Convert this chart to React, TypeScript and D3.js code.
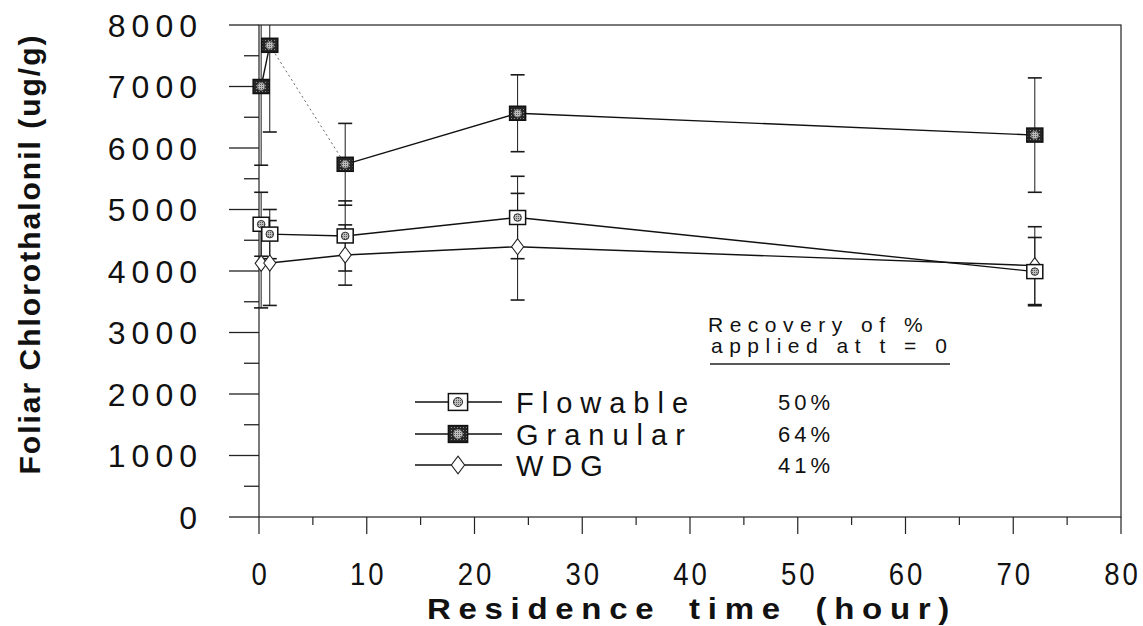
import React from "react";
import * as d3 from "d3";

// Sampling times (hours after application)
const times = [0.2, 1, 8, 24, 72];

// Foliar chlorothalonil residues (ug/g) with error bar half-widths
const flowable = [4760, 4600, 4570, 4870, 3990];
const flowableErr = [520, 400, 570, 670, 555];
const granular = [7000, 7670, 5735, 6565, 6210];
const granularErr = [1280, 1410, 665, 625, 930];
const wdg = [4125, 4130, 4260, 4395, 4087];
const wdgErr = [725, 690, 490, 867, 633];

// Granular segment between 1 h and 8 h is drawn dotted
const granularDotted = [false, true, false, false];

const xTicks = [0, 10, 20, 30, 40, 50, 60, 70, 80];
const xMinor = [5, 15, 25, 35, 45, 55, 65, 75];
const yTicks = [0, 1000, 2000, 3000, 4000, 5000, 6000, 7000, 8000];
const yMinor = [500, 1500, 2500, 3500, 4500, 5500, 6500, 7500];

const legendNames = ["Flowable", "Granular", "WDG"];
const recovery = ["50%", "64%", "41%"];
const recoveryTitle = ["Recovery of %", "applied at t = 0"];

const W = 1143;
const H = 626;
const plot = { left: 259, right: 1121, top: 25, bottom: 517 };

const x = d3.scaleLinear().domain([0, 80]).range([plot.left, plot.right]);
const y = d3.scaleLinear().domain([0, 8000]).range([plot.bottom, plot.top]);

const SANS = "'Liberation Sans', Arial, Helvetica, sans-serif";

type Kind = "flow" | "gran" | "wdg";

function Marker({ cx, cy, kind, scale = 1 }: { cx: number; cy: number; kind: Kind; scale?: number }) {
  if (kind === "wdg") {
    const hw = 6 * scale;
    const hh = 8 * scale;
    const p = d3.path();
    p.moveTo(cx, cy - hh);
    p.lineTo(cx + hw, cy);
    p.lineTo(cx, cy + hh);
    p.lineTo(cx - hw, cy);
    p.closePath();
    return <path d={p.toString()} fill="#fff" stroke="#222" strokeWidth={1.1} />;
  }
  const w = 16 * scale;
  const h = 14 * scale;
  const dark = kind === "gran";
  return (
    <g>
      <rect
        x={cx - w / 2}
        y={cy - h / 2}
        width={w}
        height={h}
        fill={dark ? "url(#stipple)" : "#fff"}
        stroke="#111"
        strokeWidth={1.5}
      />
      <circle cx={cx} cy={cy} r={3.8 * scale} fill="url(#dots)" stroke={dark ? "#777" : "#333"} strokeWidth={1} />
    </g>
  );
}

function ErrorBars({ vals, errs, kind }: { vals: number[]; errs: number[]; kind: Kind }) {
  return (
    <g stroke="#1a1a1a" fill="none">
      {times.map((t, i) => {
        const cx = x(t);
        const hi = vals[i] + errs[i];
        const lo = vals[i] - errs[i];
        const yHi = y(Math.min(hi, 8000));
        const yLo = y(lo);
        return (
          <g key={kind + i}>
            <line x1={cx} x2={cx} y1={yHi} y2={yLo} strokeWidth={1} />
            {hi <= 8000 && <line x1={cx - 7} x2={cx + 7} y1={yHi} y2={yHi} strokeWidth={1.6} />}
            <line x1={cx - 7} x2={cx + 7} y1={yLo} y2={yLo} strokeWidth={1.6} />
          </g>
        );
      })}
    </g>
  );
}

export default function App() {
  const line = d3
    .line<number>()
    .x((_, i) => x(times[i]))
    .y((v) => y(v));

  const legendY = [402, 434, 465];

  return (
    <svg
      width={W}
      height={H}
      viewBox={`0 0 ${W} ${H}`}
      style={{ position: "absolute", left: 0, top: 0, background: "#fff" }}
    >
      <defs>
        <pattern id="stipple" width="3" height="3" patternUnits="userSpaceOnUse">
          <rect width="3" height="3" fill="#262626" />
          <rect x="1" y="1" width="1" height="1" fill="#8a8a8a" />
        </pattern>
        <pattern id="dots" width="2" height="2" patternUnits="userSpaceOnUse">
          <rect width="2" height="2" fill="#bdbdbd" />
          <rect width="1" height="1" fill="#5a5a5a" />
        </pattern>
      </defs>

      {/* frame */}
      <rect
        x={plot.left}
        y={plot.top}
        width={plot.right - plot.left}
        height={plot.bottom - plot.top}
        fill="none"
        stroke="#222"
        strokeWidth={1.2}
      />

      {/* y ticks */}
      <g stroke="#222" strokeWidth={1.3}>
        {yTicks.map((v) => (
          <line key={"yt" + v} x1={plot.left - 30} x2={plot.left} y1={y(v)} y2={y(v)} />
        ))}
        {yMinor.map((v) => (
          <line key={"ym" + v} x1={plot.left - 15} x2={plot.left} y1={y(v)} y2={y(v)} />
        ))}
      </g>
      <g fontFamily={SANS} fontSize={32} fill="#111" textAnchor="end" letterSpacing={6}>
        {yTicks.map((v) => (
          <text key={"yl" + v} x={203} y={y(v) + 11.5}>
            {v}
          </text>
        ))}
      </g>

      {/* x ticks */}
      <g stroke="#222" strokeWidth={1.2}>
        {xTicks.map((v) => (
          <line key={"xt" + v} x1={x(v)} x2={x(v)} y1={plot.bottom} y2={plot.bottom + 17} />
        ))}
        {xMinor.map((v) => (
          <line key={"xm" + v} x1={x(v)} x2={x(v)} y1={plot.bottom} y2={plot.bottom + 8} />
        ))}
      </g>
      <g fontFamily={SANS} fontSize={29} fill="#111" textAnchor="middle" letterSpacing={3}>
        {xTicks.map((v) => (
          <text
            key={"xl" + v}
            transform={`translate(${x(v) + 1.5},584.5) scale(0.95,1.05)`}
          >
            {v}
          </text>
        ))}
      </g>

      {/* axis titles */}
      <text
        transform="translate(692,619) scale(1.1,1)"
        textAnchor="middle"
        fontFamily={SANS}
        fontWeight="bold"
        fontSize={30}
        letterSpacing={7}
        wordSpacing={10}
        fill="#111"
      >
        Residence time (hour)
      </text>
      <text
        transform="translate(40,254) rotate(-90)"
        textAnchor="middle"
        fontFamily={SANS}
        fontWeight="bold"
        fontSize={30}
        letterSpacing={2}
        fill="#111"
      >
        Foliar Chlorothalonil (ug/g)
      </text>

      {/* error bars */}
      <ErrorBars vals={granular} errs={granularErr} kind="gran" />
      <ErrorBars vals={flowable} errs={flowableErr} kind="flow" />
      <ErrorBars vals={wdg} errs={wdgErr} kind="wdg" />

      {/* series lines */}
      <path d={line(flowable) ?? ""} fill="none" stroke="#111" strokeWidth={1.4} />
      <path d={line(wdg) ?? ""} fill="none" stroke="#111" strokeWidth={1.4} />
      {granularDotted.map((dotted, i) => (
        <line
          key={"gs" + i}
          x1={x(times[i])}
          y1={y(granular[i])}
          x2={x(times[i + 1])}
          y2={y(granular[i + 1])}
          stroke={dotted ? "#666" : "#111"}
          strokeWidth={dotted ? 1 : 1.4}
          strokeDasharray={dotted ? "2 3" : undefined}
        />
      ))}

      {/* markers */}
      {times.map((t, i) => (
        <Marker key={"w" + i} cx={x(t)} cy={y(wdg[i])} kind="wdg" />
      ))}
      {times.map((t, i) => (
        <Marker key={"f" + i} cx={x(t)} cy={y(flowable[i])} kind="flow" />
      ))}
      {times.map((t, i) => (
        <Marker key={"g" + i} cx={x(t)} cy={y(granular[i])} kind="gran" />
      ))}

      {/* recovery table */}
      <g fontFamily={SANS} fontSize={21} fill="#111" letterSpacing={6.5}>
        <text x={708} y={332}>{recoveryTitle[0]}</text>
        <text x={711} y={353}>{recoveryTitle[1]}</text>
      </g>
      <line x1={710} x2={950} y1={364} y2={364} stroke="#222" strokeWidth={1.3} />

      {/* legend */}
      {legendNames.map((name, i) => {
        const ly = legendY[i];
        const kind: Kind = i === 0 ? "flow" : i === 1 ? "gran" : "wdg";
        return (
          <g key={name}>
            <line x1={415} x2={502} y1={ly} y2={ly} stroke="#111" strokeWidth={1.3} />
            <Marker cx={458} cy={ly} kind={kind} scale={kind === "wdg" ? 1.1 : 1.2} />
            <text x={516} y={ly + 10.5} fontFamily={SANS} fontSize={29} letterSpacing={8} fill="#111">
              {name}
            </text>
            <text x={778} y={ly + 8} fontFamily={SANS} fontSize={22} letterSpacing={4} fill="#111">
              {recovery[i]}
            </text>
          </g>
        );
      })}
    </svg>
  );
}
